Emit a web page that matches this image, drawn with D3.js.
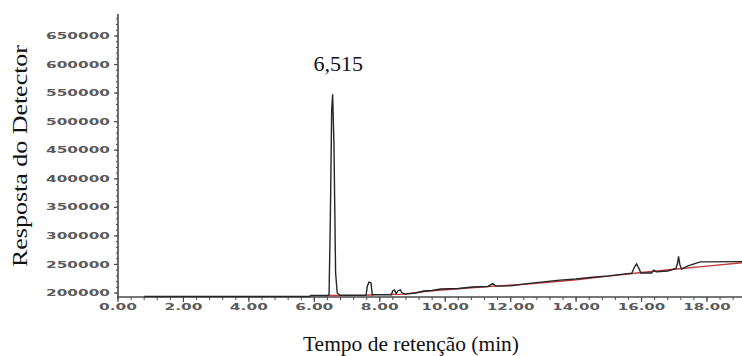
<!DOCTYPE html>
<html>
<head>
<meta charset="utf-8">
<script src="https://cdn.jsdelivr.net/npm/d3@7"></script>
<style>
  html, body { margin: 0; padding: 0; background: #fff; }
  svg { display: block; }
</style>
</head>
<body>
<svg id="chart" width="742" height="356"></svg>
<script>
// ---- data ----
const yTickValues = [200000, 250000, 300000, 350000, 400000, 450000, 500000, 550000, 600000, 650000];
const xTickValues = [0, 2, 4, 6, 8, 10, 12, 14, 16, 18];

const blackTime = [0.80, 5.85, 5.90, 6.40, 6.45, 6.49, 6.53, 6.56, 6.60, 6.65, 6.70, 6.78,
  7.58, 7.62, 7.67, 7.73, 7.77, 8.35, 8.40, 8.45, 8.50, 8.56, 8.63, 8.68, 8.80,
  9.10, 9.35, 9.60, 9.86, 10.40, 10.84, 11.30, 11.45, 11.55, 12.00, 12.50, 13.00, 13.50,
  14.00, 14.50, 15.00, 15.50, 15.70, 15.78, 15.85, 15.92, 15.98, 16.30, 16.38, 16.45,
  16.80, 17.05, 17.10, 17.13, 17.17, 17.22, 17.40, 17.65, 17.80, 19.10];
const blackResp = [194000, 194000, 195500, 195500, 197000, 333000, 520000, 548000, 459000, 235000, 200000, 196000,
  196000, 212000, 219000, 218000, 197000, 197000, 204000, 205500, 199000, 204000, 205500, 200000, 198000,
  200000, 203500, 204500, 207000, 208000, 210500, 211500, 216500, 212000, 212500, 216500, 219500, 222500,
  224500, 227500, 230000, 233500, 234500, 245000, 251000, 243000, 235000, 235000, 240000, 237000,
  238500, 243000, 252000, 264000, 250000, 242000, 247000, 252000, 254500, 255000];

const redTime = [6.40, 6.80, null, 7.58, 7.80, null, 8.30, 8.80, null,
  8.80, 9.50, 10.50, 11.50, 12.50, 13.50, 14.00, 15.00, 16.00, 17.00, 18.00, 19.10];
const redResp = [195500, 195500, null, 196500, 196500, null, 197500, 198000, null,
  198500, 203500, 208000, 212000, 215500, 220500, 223000, 229500, 236000, 241500, 247000, 253000];

const peakLabel = "6,515";
const peakTime = 6.515;
const xTitle = "Tempo de retenção (min)";
const yTitle = "Resposta do Detector";

// ---- scales ----
const svg = d3.select("#chart");
const x = d3.scaleLinear().domain([0, 19.07]).range([118, 742]);
const y = d3.scaleLinear().domain([193000, 688500]).range([297, 14]);

const axisColor = "#4a4a4a";
const labelColor = "#5a5a5a";

// ---- y axis ----
const yMinor = d3.range(200000, 688000, 10000);
svg.append("g").selectAll("line").data(yMinor).join("line")
  .attr("x1", 116).attr("x2", 118)
  .attr("y1", d => y(d)).attr("y2", d => y(d))
  .attr("stroke", axisColor).attr("stroke-width", 1);
svg.append("g").selectAll("line").data(yTickValues).join("line")
  .attr("x1", 114).attr("x2", 118)
  .attr("y1", d => y(d)).attr("y2", d => y(d))
  .attr("stroke", axisColor).attr("stroke-width", 1.2);
svg.append("g").selectAll("text").data(yTickValues).join("text")
  .attr("x", 110).attr("y", d => y(d))
  .attr("dy", "0.36em")
  .attr("text-anchor", "end")
  .attr("font-family", "DejaVu Sans")
  .attr("font-weight", "bold")
  .attr("font-size", 8.5)
  .attr("fill", labelColor)
  .attr("textLength", 64)
  .attr("lengthAdjust", "spacingAndGlyphs")
  .text(d => String(d));
svg.append("line")
  .attr("x1", 118).attr("x2", 118).attr("y1", 14).attr("y2", 297.5)
  .attr("stroke", axisColor).attr("stroke-width", 1.6);

// ---- x axis ----
const xMinor = d3.range(0, 19.07, 0.4);
svg.append("g").selectAll("line").data(xMinor).join("line")
  .attr("x1", d => x(d)).attr("x2", d => x(d))
  .attr("y1", 297).attr("y2", 300)
  .attr("stroke", axisColor).attr("stroke-width", 1);
svg.append("g").selectAll("line").data(xTickValues).join("line")
  .attr("x1", d => x(d)).attr("x2", d => x(d))
  .attr("y1", 297).attr("y2", 302)
  .attr("stroke", axisColor).attr("stroke-width", 1.2);
svg.append("g").selectAll("text").data(xTickValues).join("text")
  .attr("x", d => x(d)).attr("y", 310)
  .attr("text-anchor", "middle")
  .attr("font-family", "DejaVu Sans")
  .attr("font-weight", "bold")
  .attr("font-size", 9)
  .attr("fill", labelColor)
  .attr("textLength", d => d.toFixed(2).length * 9.5)
  .attr("lengthAdjust", "spacingAndGlyphs")
  .text(d => d.toFixed(2));
svg.append("line")
  .attr("x1", 117).attr("x2", 742).attr("y1", 297).attr("y2", 297)
  .attr("stroke", axisColor).attr("stroke-width", 1.6);

// ---- traces ----
const blackData = blackTime.map((t, i) => ({t, v: blackResp[i]}));
const redData = redTime.map((t, i) => ({t, v: redResp[i]}));
const line = d3.line()
  .defined(d => d.t != null && d.v != null)
  .x(d => x(d.t)).y(d => y(d.v));

svg.append("path").datum(redData)
  .attr("d", line).attr("fill", "none")
  .attr("stroke", "#c43a3a").attr("stroke-width", 1.4);
svg.append("path").datum(blackData)
  .attr("d", line).attr("fill", "none")
  .attr("stroke", "#262626").attr("stroke-width", 1.4)
  .attr("stroke-linejoin", "miter");

// ---- texts ----
svg.append("text")
  .attr("x", x(peakTime) + 7).attr("y", 71)
  .attr("text-anchor", "middle")
  .attr("font-family", "Liberation Serif")
  .attr("font-size", 22)
  .attr("fill", "#111")
  .text(peakLabel);

svg.append("text")
  .attr("x", 411).attr("y", 351)
  .attr("text-anchor", "middle")
  .attr("font-family", "Liberation Serif")
  .attr("font-size", 21)
  .attr("fill", "#111")
  .attr("textLength", 216)
  .attr("lengthAdjust", "spacingAndGlyphs")
  .text(xTitle);

svg.append("text")
  .attr("transform", "translate(27,156) rotate(-90)")
  .attr("text-anchor", "middle")
  .attr("font-family", "Liberation Serif")
  .attr("font-size", 21)
  .attr("fill", "#111")
  .attr("textLength", 222)
  .attr("lengthAdjust", "spacingAndGlyphs")
  .text(yTitle);
</script>
</body>
</html>
